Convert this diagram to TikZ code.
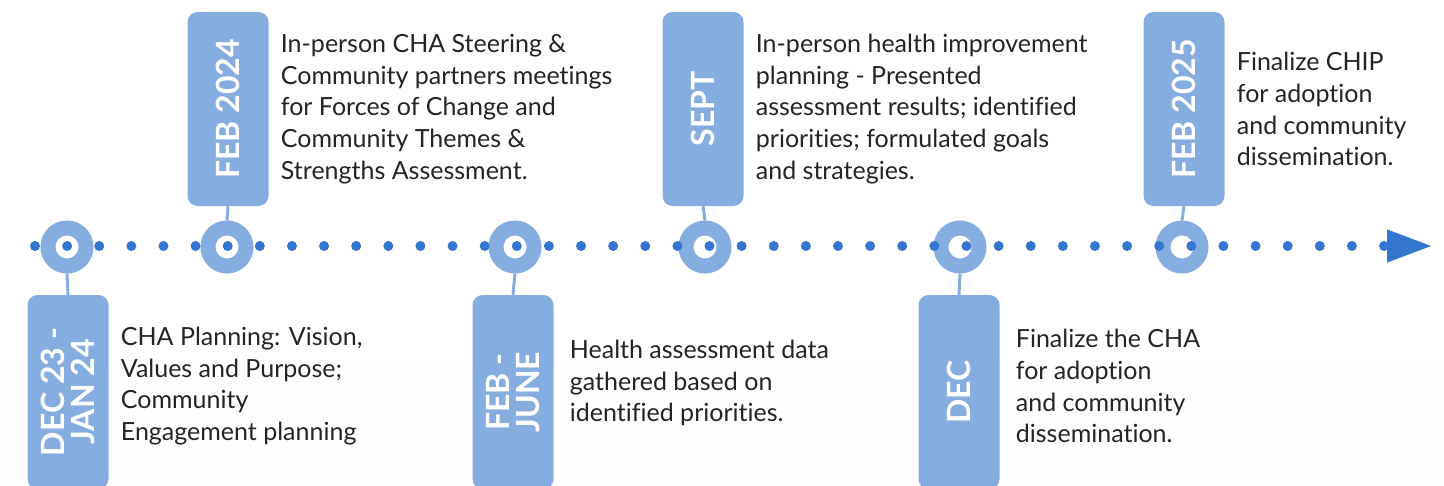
\documentclass[tikz,border=0pt]{standalone}
\usepackage{fontspec}
\setmainfont{Lato}[Ligatures=NoCommon]
\usetikzlibrary{arrows.meta, positioning, calc}

\definecolor{ringblue}{HTML}{86ADE0}
\definecolor{dotblue}{HTML}{3375CF}
\definecolor{inkgray}{HTML}{262324}

\begin{document}
\begin{tikzpicture}[
  x=1pt, y=-1pt,
  every node/.style={font=\fontsize{25}{31.8}\selectfont},
  datebox/.style={rotate=90, fill=ringblue, rounded corners=10pt, minimum width=194pt,
    minimum height=81pt, inner sep=0pt, text=white, align=center,
    font=\fontsize{32}{29.5}\selectfont\bfseries},
  desc/.style={inner sep=0pt, align=left, text=inkgray},
  ring/.style={circle, draw=ringblue, line width=15pt, fill=white, minimum size=38pt, inner sep=0pt},
  dot/.style={circle, fill=dotblue, minimum size=10pt, inner sep=0pt},
  stem/.style={ringblue, line width=3pt}
]
  \clip (0,0) rectangle (1444,485);
  \fill[gray!1] (0,365) rectangle (1444,485);

  % date boxes, alternating above and below the line
  \node[datebox] (box1) at (68,392)   {DEC 23 -\\JAN 24};
  \node[datebox] (box2) at (228,109)  {FEB 2024};
  \node[datebox] (box3) at (513,392)  {FEB -\\JUNE};
  \node[datebox] (box4) at (703,109)  {SEPT};
  \node[datebox] (box5) at (959,392)  {DEC};
  \node[datebox] (box6) at (1184,109) {FEB 2025};

  % milestones on the line
  \node[ring] (ring1) at (67,247)   {};
  \node[ring] (ring2) at (227,247)  {};
  \node[ring] (ring3) at (515,247)  {};
  \node[ring] (ring4) at (705,247)  {};
  \node[ring] (ring5) at (960,247)  {};
  \node[ring] (ring6) at (1182,247) {};

  \draw[stem] (ring1.south) -- (box1.east);
  \draw[stem] (box2.west) -- (ring2.north);
  \draw[stem] (ring3.south) -- (box3.east);
  \draw[stem] (box4.west) -- (ring4.north);
  \draw[stem] (ring5.south) -- (box5.east);
  \draw[stem] (box6.west) -- (ring6.north);

  % dotted time axis
  \foreach \k in {0,...,42}
    \node[dot] (d\k) at (35+32.12*\k,246) {};
  \coordinate (tip) at (1431,246);
  \draw[dotblue, line width=0.4pt, -{Triangle[length=44pt, width=33pt]}] (d42.center) -- (tip);

  % descriptions
  \node[desc, right=12pt of box1.south, yshift=6pt] (txt1)
    {CHA Planning: Vision,\\Values and Purpose;\\Community\\Engagement planning};
  \node[desc, right=12pt of box2.south] (txt2)
    {In-person CHA Steering \&\\Community partners meetings\\for Forces of Change and\\Community Themes \&\\Strengths Assessment.};
  \node[desc, right=16pt of box3.south, yshift=9pt] (txt3)
    {Health assessment data\\gathered based on\\identified priorities.};
  \node[desc, right=12pt of box4.south] (txt4)
    {In-person health improvement\\planning - Presented\\assessment results; identified\\priorities; formulated goals\\and strategies.};
  \node[desc, right=16pt of box5.south, yshift=6pt] (txt5)
    {Finalize the CHA\\for adoption\\and community\\dissemination.};
  \node[desc, right=12pt of box6.south] (txt6)
    {Finalize CHIP\\for adoption\\and community\\dissemination.};
\end{tikzpicture}
\end{document}
